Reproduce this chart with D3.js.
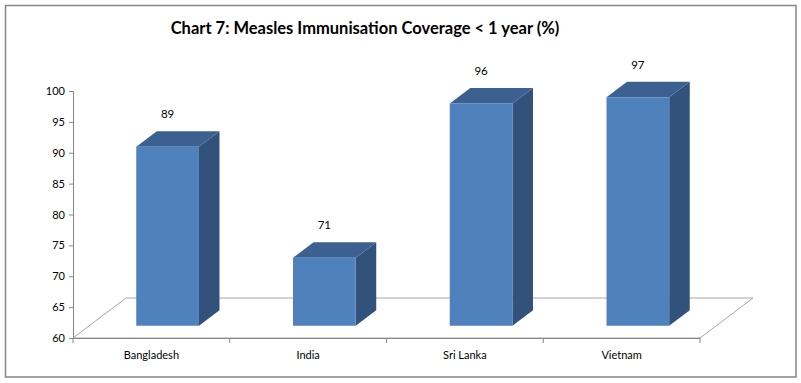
<!DOCTYPE html>
<html>
<head>
<meta charset="utf-8">
<script src="https://cdn.jsdelivr.net/npm/d3@7"></script>
<style>
  body { margin: 0; background: #fff; }
  text { font-family: Lato, "Open Sans", sans-serif; fill: #000; }
</style>
</head>
<body>
<div id="chart"></div>
<script>
// data
var countries = ["Bangladesh", "India", "Sri Lanka", "Vietnam"];
var coverage = [89, 71, 96, 97];
var yTicks = [60, 65, 70, 75, 80, 85, 90, 95, 100];

var svgwidth = 801;
var svgheight = 383;

var svg = d3.select("#chart")
  .append("svg")
  .attr("width", svgwidth)
  .attr("height", svgheight);

// outer frame
svg.append("rect")
  .attr("x", 5.5)
  .attr("y", 5.5)
  .attr("width", 790.5)
  .attr("height", 371.5)
  .attr("fill", "none")
  .attr("stroke", "#868686")
  .attr("stroke-width", 1.5);

svg.append("text")
  .attr("x", 365)
  .attr("y", 34)
  .attr("text-anchor", "middle")
  .style("font-size", "16.5px")
  .style("font-weight", "bold")
  .text("Chart 7: Measles Immunisation Coverage < 1 year (%)");

var yscale = d3.scaleLinear()
  .domain([60, 100])
  .range([338, 91]);

var xscale = d3.scaleBand()
  .domain(countries)
  .range([73, 700]);

// fake 3d projection: going back by d pixels moves right by k*d and up by d
var k = 1.325;
var floorDepth = 40;
var barDepth = 15.5;
var barFront = (floorDepth - barDepth) / 2;
var barW = xscale.bandwidth() * 0.4;

// floor
var y0 = yscale(60);
var xl = xscale.range()[0], xr = xscale.range()[1];
svg.append("path")
  .attr("d", "M" + xl + "," + y0 + "L" + xr + "," + y0 +
    "L" + (xr + k * floorDepth) + "," + (y0 - floorDepth) +
    "L" + (xl + k * floorDepth) + "," + (y0 - floorDepth) + "Z")
  .attr("fill", "none")
  .attr("stroke", "#a6a6a6")
  .attr("stroke-width", 1);

// y axis
var yaxis = d3.axisLeft(yscale).tickValues(yTicks).tickSize(4).tickPadding(4);
var gy = svg.append("g")
  .attr("transform", "translate(73,0)")
  .call(yaxis);
gy.select(".domain").attr("stroke", "#868686");
gy.selectAll(".tick line").attr("stroke", "#868686");
gy.selectAll("text").style("font-size", "11px").style("font-family", "Lato, sans-serif");

// x axis
var xaxis = d3.axisBottom(xscale).tickSize(0).tickPadding(13);
var gx = svg.append("g")
  .attr("transform", "translate(0," + y0 + ")")
  .call(xaxis);
gx.select(".domain").attr("stroke", "#868686");
gx.selectAll("text").style("font-size", "11px").style("font-family", "Lato, sans-serif");
gx.selectAll(".sep")
  .data(countries.concat([null]))
  .enter()
  .append("line")
  .attr("x1", (d, i) => i < countries.length ? xscale(d) : xr)
  .attr("x2", (d, i) => i < countries.length ? xscale(d) : xr)
  .attr("y1", 0)
  .attr("y2", 5)
  .attr("stroke", "#868686");

var bars = svg.selectAll(".bar")
  .data(countries.map((c, i) => ({ name: c, value: coverage[i] })))
  .enter()
  .append("g")
  .attr("class", "bar");

function bx(d) { return xscale(d.name) + xscale.bandwidth() / 2 - barW / 2 + k * barFront; }
function btop(d) { return yscale(d.value) - barFront; }
var bbot = y0 - barFront;
var ddx = k * barDepth;

// side face
bars.append("path")
  .attr("d", function(d) {
    var x = bx(d) + barW, t = btop(d);
    return "M" + x + "," + t + "L" + (x + ddx) + "," + (t - barDepth) +
      "L" + (x + ddx) + "," + (bbot - barDepth) + "L" + x + "," + bbot + "Z";
  })
  .attr("fill", "#32527c");

// top face
bars.append("path")
  .attr("d", function(d) {
    var x = bx(d), t = btop(d);
    return "M" + x + "," + t + "L" + (x + barW) + "," + t +
      "L" + (x + barW + ddx) + "," + (t - barDepth) + "L" + (x + ddx) + "," + (t - barDepth) + "Z";
  })
  .attr("fill", "#3c6190");

// front face
bars.append("rect")
  .attr("x", bx)
  .attr("y", btop)
  .attr("width", barW)
  .attr("height", d => bbot - btop(d))
  .attr("fill", "#4f81bd");

// value labels
bars.append("text")
  .attr("x", d => bx(d) + barW / 2)
  .attr("y", d => btop(d) - barDepth - 13)
  .attr("text-anchor", "middle")
  .style("font-size", "11.5px")
  .text(d => d.value);
</script>
</body>
</html>
